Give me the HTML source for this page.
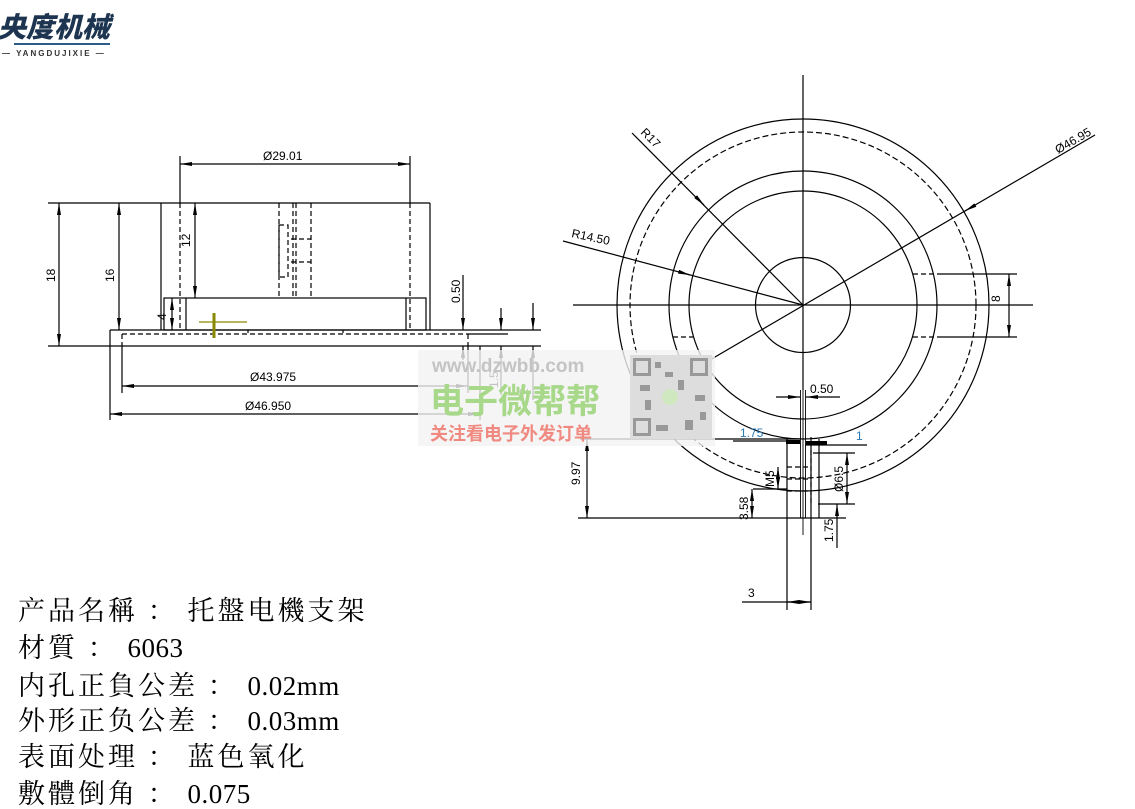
<!DOCTYPE html>
<html><head><meta charset="utf-8"><style>
html,body{margin:0;padding:0;background:#fff;width:1135px;height:794px;overflow:hidden}
.t{position:absolute;left:18px;font-family:"Liberation Serif","Noto Serif CJK SC",serif;font-size:27px;letter-spacing:3px;color:#000;white-space:nowrap;line-height:1}
.t span{letter-spacing:0.5px}
</style></head><body>
<svg width="1135" height="794" style="position:absolute;left:0;top:0" font-family="Liberation Sans, sans-serif">
<defs>
<marker id="a" viewBox="0 0 12 4" refX="12" refY="2" markerWidth="12" markerHeight="4" markerUnits="userSpaceOnUse" orient="auto-start-reverse"><path d="M0,0 L12,2 L0,4z" fill="#000"/></marker>
</defs>
<text x="-2" y="37" font-family="Noto Sans CJK SC, sans-serif" font-weight="900" font-style="italic" font-size="28" fill="#1d3550">央度机械</text>
<rect x="14" y="43" width="96" height="2" fill="#2d5d8a"/>
<text x="2" y="56" font-size="8" font-weight="bold" fill="#333" letter-spacing="2">— YANGDUJIXIE —</text>

<g stroke="#000" stroke-width="1.2" fill="none">
<line x1="48" y1="203" x2="430" y2="203"/>
<line x1="161" y1="203" x2="161" y2="330"/>
<line x1="430" y1="203" x2="430" y2="330"/>
<line x1="110" y1="330" x2="541" y2="330"/>
<line x1="48" y1="346" x2="541" y2="346"/>
<line x1="110" y1="330" x2="110" y2="420"/>
<rect x="164" y="298" width="262" height="32"/>
<line x1="186" y1="298" x2="186" y2="330"/>
<line x1="406" y1="298" x2="406" y2="330"/>
<line x1="180" y1="156" x2="180" y2="203"/>
<line x1="410" y1="156" x2="410" y2="203"/>
<g stroke-dasharray="5,3">
<line x1="180" y1="203" x2="180" y2="330"/>
<line x1="410" y1="203" x2="410" y2="330"/>
<line x1="122" y1="334" x2="468" y2="334"/>
<line x1="122" y1="334" x2="122" y2="346"/>
<line x1="279" y1="203" x2="279" y2="298"/>
<line x1="293" y1="203" x2="293" y2="298"/>
<line x1="296" y1="203" x2="296" y2="298"/>
<line x1="311" y1="203" x2="311" y2="298"/>
<rect x="279" y="225" width="9" height="52"/>
<line x1="291" y1="239" x2="311" y2="239"/>
<line x1="291" y1="262" x2="311" y2="262"/>
<line x1="468" y1="334" x2="468" y2="346"/>
</g>
<line x1="248" y1="330" x2="248" y2="333"/><line x1="343" y1="330" x2="343" y2="333"/>
<line x1="122" y1="346" x2="122" y2="393"/>
<line x1="468" y1="334" x2="508" y2="334"/>
<line x1="468" y1="346" x2="468" y2="393"/>
<line x1="480" y1="346" x2="480" y2="420"/>
<line x1="180" y1="164" x2="410" y2="164" marker-start="url(#a)" marker-end="url(#a)"/>
<line x1="59" y1="203" x2="59" y2="346" marker-start="url(#a)" marker-end="url(#a)"/>
<line x1="119" y1="203" x2="119" y2="330" marker-start="url(#a)" marker-end="url(#a)"/>
<line x1="195" y1="203" x2="195" y2="298" marker-start="url(#a)" marker-end="url(#a)"/>
<line x1="172" y1="298" x2="172" y2="330" marker-start="url(#a)" marker-end="url(#a)"/>
<line x1="122" y1="386" x2="468" y2="386" marker-start="url(#a)" marker-end="url(#a)"/>
<line x1="110" y1="414" x2="480" y2="414" marker-start="url(#a)" marker-end="url(#a)"/>
<line x1="463" y1="275" x2="463" y2="330" marker-end="url(#a)"/>
<line x1="463" y1="360" x2="463" y2="346" marker-end="url(#a)"/>
<line x1="501" y1="308" x2="501" y2="330" marker-end="url(#a)"/>
<line x1="501" y1="395" x2="501" y2="346" marker-end="url(#a)"/>
<line x1="533" y1="303" x2="533" y2="330" marker-end="url(#a)"/>
<line x1="533" y1="400" x2="533" y2="346" marker-end="url(#a)"/>

<circle cx="803" cy="305" r="186"/>
<circle cx="803" cy="305" r="173" stroke-dasharray="6,3"/>
<circle cx="803" cy="305" r="134"/>
<circle cx="803" cy="305" r="114"/>
<circle cx="803" cy="305" r="47.5"/>
<line x1="573" y1="305" x2="1033" y2="305"/>
<line x1="803" y1="75" x2="803" y2="390"/>
<line x1="632" y1="133" x2="803" y2="305"/>
<line x1="704" y1="205" x2="698" y2="199" marker-start="url(#a)"/>
<line x1="563" y1="241" x2="803" y2="305"/>
<line x1="690" y1="275" x2="683" y2="273" marker-start="url(#a)"/>
<line x1="1095" y1="135" x2="650" y2="395"/>
<line x1="965" y1="211" x2="972" y2="207" marker-start="url(#a)"/>
<g stroke-dasharray="5,3"><line x1="913" y1="274" x2="937" y2="274"/><line x1="913" y1="337" x2="937" y2="337"/><line x1="673" y1="337" x2="693" y2="337"/></g>
<line x1="937" y1="274" x2="1017" y2="274"/><line x1="937" y1="337" x2="1017" y2="337"/>
<line x1="1009" y1="274" x2="1009" y2="337" marker-start="url(#a)" marker-end="url(#a)"/>
<g stroke-width="0.9">
<line x1="800.5" y1="390" x2="800.5" y2="518"/>
<line x1="805.5" y1="390" x2="805.5" y2="518"/>
<line x1="803" y1="390" x2="803" y2="535"/>
</g>
<line x1="776" y1="397" x2="800" y2="397" marker-end="url(#a)"/>
<line x1="840" y1="397" x2="806" y2="397" marker-end="url(#a)"/>
<line x1="580" y1="439" x2="800" y2="439"/>
<line x1="733" y1="441" x2="790" y2="441"/>
<line x1="805" y1="445" x2="867" y2="445"/>
<line x1="786" y1="442" x2="800" y2="442" stroke-width="4"/>
<line x1="806" y1="443" x2="827" y2="443" stroke-width="4"/>
<line x1="787" y1="439" x2="787" y2="610"/>
<line x1="811" y1="437" x2="811" y2="610"/>
<line x1="819" y1="439" x2="819" y2="518"/>
<g stroke-dasharray="5,3"><line x1="811" y1="450" x2="811" y2="505"/><line x1="787" y1="467" x2="811" y2="467"/><line x1="787" y1="479" x2="811" y2="479"/><line x1="787" y1="491" x2="811" y2="491"/></g>
<line x1="778" y1="467" x2="778" y2="489" marker-start="url(#a)" marker-end="url(#a)"/>
<line x1="753" y1="489" x2="787" y2="489"/>
<line x1="813" y1="453" x2="855" y2="453"/><line x1="818" y1="504" x2="855" y2="504"/>
<line x1="847" y1="453" x2="847" y2="504" marker-start="url(#a)" marker-end="url(#a)"/>
<line x1="837" y1="548" x2="837" y2="504" marker-end="url(#a)"/>
<line x1="578" y1="518" x2="846" y2="518"/>
<line x1="587" y1="439" x2="587" y2="518" marker-start="url(#a)" marker-end="url(#a)"/>
<line x1="752" y1="489" x2="752" y2="518" marker-start="url(#a)" marker-end="url(#a)"/>
<line x1="742" y1="602" x2="811" y2="602"/>
<line x1="792" y1="602" x2="787" y2="602" marker-end="url(#a)"/>
<line x1="806" y1="602" x2="811" y2="602" marker-end="url(#a)"/>
</g>
<line x1="214" y1="313" x2="214" y2="338" stroke="#8a8a00" stroke-width="3"/>
<line x1="199" y1="322" x2="247" y2="322" stroke="#8a8a00" stroke-width="1.2"/>

<g font-size="12" fill="#000">
<text x="263" y="160">Ø29.01</text>
<text x="250" y="381">Ø43.975</text>
<text x="245" y="410">Ø46.950</text>
<text transform="translate(55,282) rotate(-90)">18</text>
<text transform="translate(114,282) rotate(-90)">16</text>
<text transform="translate(190,247) rotate(-90)">12</text>
<text transform="translate(166,320) rotate(-90)">4</text>
<text transform="translate(460,303) rotate(-90)">0.50</text>
<text transform="translate(498,388) rotate(-90)">1.5</text>
<text transform="translate(528,395) rotate(-90)">2</text>
<text transform="translate(640,133) rotate(45)">R17</text>
<text transform="translate(571,237) rotate(12)">R14.50</text>
<text transform="translate(1058,154) rotate(-30)">Ø46.95</text>
<text transform="translate(1000,302) rotate(-90)">8</text>
<text x="810" y="393">0.50</text>
<text x="740" y="437" fill="#2a7ab8">1.75</text>
<text x="856" y="440" fill="#2a7ab8">1</text>
<text transform="translate(580,485) rotate(-90)">9.97</text>
<text transform="translate(748,520) rotate(-90)">3.58</text>
<text transform="translate(774,487) rotate(-90)">M5</text>
<text transform="translate(843,492) rotate(-90)">Ø6.5</text>
<text transform="translate(833,542) rotate(-90)">1.75</text>
<text x="748" y="597">3</text>
</g>

<rect x="418" y="350" width="297" height="96" fill="#f2f2f2" opacity="0.8"/>
<text x="432" y="372" font-size="19" font-weight="bold" fill="#c4c4c4">www.dzwbb.com</text>
<text x="430" y="413" font-family="Noto Sans CJK SC, sans-serif" font-size="34" font-weight="bold" fill="#a8d88a">电子微帮帮</text>
<text x="430" y="440" font-family="Noto Sans CJK SC, sans-serif" font-size="18" font-weight="bold" fill="#f08a80">关注看电子外发订单</text>
<rect x="630" y="355" width="82" height="84" fill="#ddd"/>
<g fill="#999">
<rect x="633" y="358" width="18" height="18"/><rect x="690" y="358" width="18" height="18"/><rect x="633" y="418" width="18" height="18"/>
<rect x="655" y="362" width="6" height="6"/><rect x="665" y="372" width="8" height="5"/><rect x="640" y="385" width="10" height="6"/><rect x="678" y="380" width="6" height="10"/><rect x="695" y="395" width="10" height="6"/><rect x="656" y="425" width="12" height="6"/><rect x="685" y="420" width="8" height="10"/><rect x="700" y="412" width="6" height="8"/><rect x="645" y="400" width="6" height="10"/>
</g>
<rect x="636" y="361" width="12" height="12" fill="#ddd"/><rect x="693" y="361" width="12" height="12" fill="#ddd"/><rect x="636" y="421" width="12" height="12" fill="#ddd"/>
<circle cx="670" cy="397" r="8" fill="#cfe8c0"/>
</svg>
<div class="t" style="top:598px">产品名稱 ： 托盤电機支架</div>
<div class="t" style="top:635px">材質 ： <span>6063</span></div>
<div class="t" style="top:673px">内孔正負公差 ： <span>0.02mm</span></div>
<div class="t" style="top:708px">外形正负公差 ： <span>0.03mm</span></div>
<div class="t" style="top:744px">表面处理 ： 蓝色氧化</div>
<div class="t" style="top:781px">敷體倒角 ： <span>0.075</span></div>
</body></html>
